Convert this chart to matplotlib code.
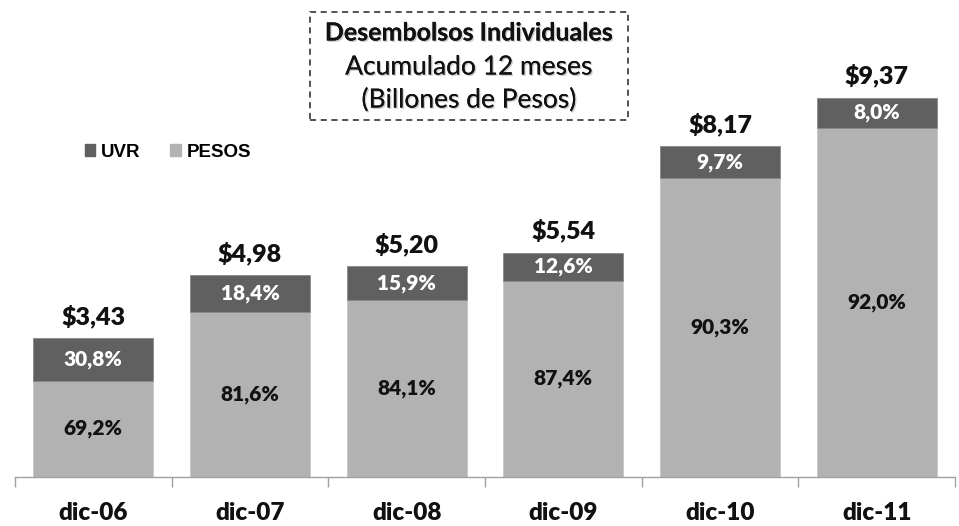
import matplotlib
matplotlib.use("Agg")
import matplotlib.pyplot as plt
import matplotlib.patheffects as pe
import numpy as np

# datos
categorias = ["dic-06", "dic-07", "dic-08", "dic-09", "dic-10", "dic-11"]
totales = [3.43, 4.98, 5.20, 5.54, 8.17, 9.37]
uvr_pct = [30.8, 18.4, 15.9, 12.6, 9.7, 8.0]
pesos_pct = [69.2, 81.6, 84.1, 87.4, 90.3, 92.0]

plt.rcParams['font.family'] = ['Lato', 'DejaVu Sans']

col_uvr = "#606060"
col_pesos = "#B2B2B2"

fig = plt.figure(figsize=(9.59, 5.26), dpi=100)
ax = fig.add_axes([15 / 959, 49 / 526, 940 / 959, 477 / 526])

x = np.arange(len(categorias))
tot = np.array(totales)
pesos = tot * np.array(pesos_pct) / 100
uvr = tot * np.array(uvr_pct) / 100

ancho = 0.766
ax.bar(x, pesos, ancho, color=col_pesos, edgecolor="#C8C8C8", linewidth=0.6, zorder=2)
ax.bar(x, uvr, ancho, bottom=pesos, color=col_uvr, edgecolor="#888888", linewidth=0.6, zorder=2)

for i in range(len(x)):
    ax.text(x[i], pesos[i] / 2, f"{pesos_pct[i]:.1f}%".replace(".", ","),
            ha="center", va="center", fontsize=15, fontweight="heavy", color="#111111")
    ax.text(x[i], pesos[i] + uvr[i] / 2, f"{uvr_pct[i]:.1f}%".replace(".", ","),
            ha="center", va="center", fontsize=15, fontweight="heavy", color="white")
    ax.text(x[i], tot[i] + 0.25, f"${totales[i]:.2f}".replace(".", ","),
            ha="center", va="bottom", fontsize=18, fontweight="heavy", color="#111111")

ax.set_xlim(-0.5, 5.5)
ax.set_ylim(0, 11.78)
ax.set_yticks([])
ax.set_xticks(x)
ax.set_xticklabels(categorias, fontsize=17.5, fontweight="heavy", color="#111111")
ax.tick_params(axis="x", which="major", length=0, pad=18)
ax.set_xticks(np.arange(-0.5, 6, 1), minor=True)
ax.tick_params(axis="x", which="minor", length=7, width=1, color="#A0A0A0", direction="out")
for s in ["top", "left", "right"]:
    ax.spines[s].set_visible(False)
ax.spines["bottom"].set_color("#A0A0A0")
ax.spines["bottom"].set_linewidth(1)

# leyenda
ax.legend(handles=[plt.Rectangle((0, 0), 1, 1, color=col_uvr),
                   plt.Rectangle((0, 0), 1, 1, color=col_pesos)],
          labels=["UVR", "PESOS"], loc="center left", bbox_to_anchor=(0.0745, 0.681),
          ncol=2, frameon=False, borderpad=0, borderaxespad=0,
          handlelength=0.55, handleheight=0.55, handletextpad=0.3,
          columnspacing=1.6, prop={"family": "Liberation Sans", "weight": "bold", "size": 13.5})

# titulo en caja punteada
sombra = [pe.withSimplePatchShadow(offset=(1, -1), shadow_rgbFace="#999999", alpha=0.5), pe.Normal()]
fig.patches.append(plt.Rectangle((310 / 959, 1 - 120 / 526), 318 / 959, 108 / 526,
                                 transform=fig.transFigure, fill=False, edgecolor="#222222",
                                 linestyle=(0, (4, 3)), linewidth=1.1))
cx = 469 / 959
fig.text(cx, 1 - 33 / 526, "Desembolsos Individuales", ha="center", va="center",
         fontsize=18, fontweight="bold", color="#111111", path_effects=sombra)
fig.text(cx, 1 - 67 / 526, "Acumulado 12 meses", ha="center", va="center",
         fontsize=19, color="#111111", path_effects=sombra)
fig.text(cx, 1 - 100 / 526, "(Billones de Pesos)", ha="center", va="center",
         fontsize=19, color="#111111", path_effects=sombra)

fig.savefig("out.png", dpi=100)
